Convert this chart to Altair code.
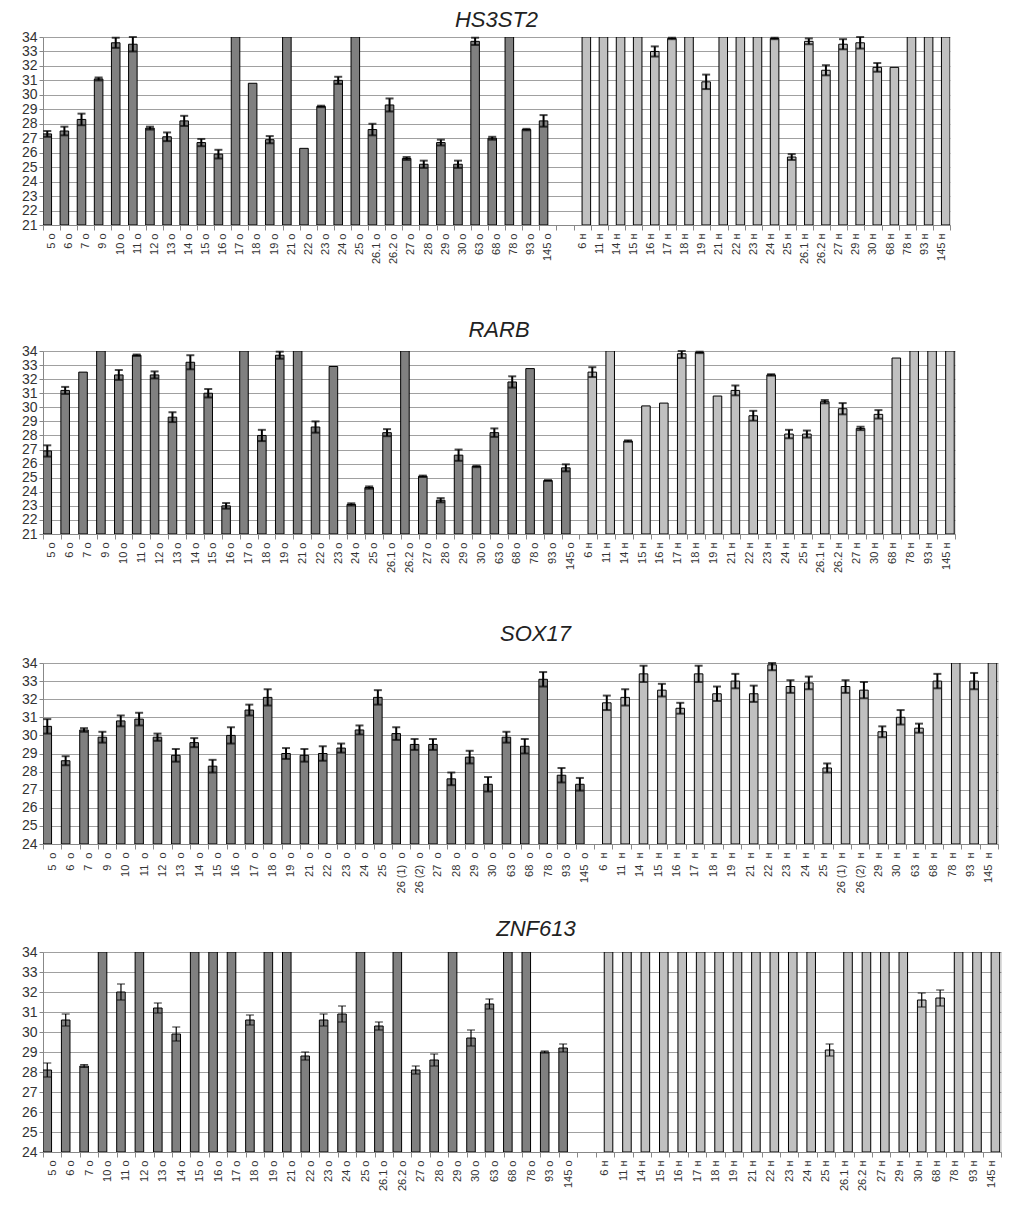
import altair as alt
import pandas as pd

FONT = "Liberation Sans"
O = "о"   # tumour samples (dark bars)
N = "н"   # normal samples (light bars)
# None = no value inside the axis range (bar drawn up to the top of the axis)

# ---------------- HS3ST2 ----------------
hs_o_ids = ["5", "6", "7", "9", "10", "11", "12", "13", "14", "15", "16", "17", "18", "19", "21", "22",
            "23", "24", "25", "26.1", "26.2", "27", "28", "29", "30", "63", "68", "78", "93", "145"]
hs_o_val = [27.3, 27.5, 28.3, 31.1, 33.6, 33.5, 27.7, 27.1, 28.2, 26.7, 25.9, None, 30.8, 26.9, None, 26.3,
            29.2, 31.0, None, 27.6, 29.3, 25.6, 25.2, 26.7, 25.2, 33.7, 27.0, None, 27.6, 28.2]
hs_o_err = [0.2, 0.3, 0.4, 0.1, 0.35, 0.5, 0.1, 0.3, 0.35, 0.25, 0.3, None, None, 0.25, None, None,
            0.05, 0.25, None, 0.4, 0.45, 0.1, 0.25, 0.2, 0.25, 0.25, 0.1, None, 0.05, 0.4]
hs_n_ids = ["6", "11", "14", "15", "16", "17", "18", "19", "21", "22", "23", "24", "25", "26.1", "26.2",
            "27", "29", "30", "68", "78", "93", "145"]
hs_n_val = [None, None, None, None, 33.0, 33.9, None, 30.9, None, None, None, 33.9, 25.7, 33.7, 31.7,
            33.5, 33.6, 31.9, 31.9, None, None, None]
hs_n_err = [None, None, None, None, 0.35, 0.05, None, 0.5, None, None, None, 0.05, 0.2, 0.2, 0.35,
            0.35, 0.4, 0.3, None, None, None, None]

# ---------------- RARB ----------------
ra_o_ids = hs_o_ids
ra_o_val = [26.9, 31.2, 32.5, None, 32.3, 33.7, 32.3, 29.3, 33.2, 31.0, 23.0, None, 28.0, 33.7, None, 28.6,
            32.9, 23.1, 24.3, 28.2, None, 25.1, 23.4, 26.6, 25.8, 28.2, 31.8, 32.75, 24.8, 25.7]
ra_o_err = [0.4, 0.25, None, None, 0.35, 0.05, 0.25, 0.35, 0.5, 0.3, 0.2, None, 0.4, 0.25, None, 0.4,
            None, 0.08, 0.08, 0.25, None, 0.05, 0.15, 0.4, 0.05, 0.3, 0.4, None, 0.03, 0.25]
ra_n_ids = ["6", "11", "14", "15", "16", "17", "18", "19", "21", "22", "23", "24", "25", "26.1", "26.2",
            "27", "30", "68", "78", "93", "145"]
ra_n_val = [32.5, None, 27.6, 30.1, 30.3, 33.8, 33.9, 30.8, 31.2, 29.4, 32.3, 28.1, 28.1, 30.4, 29.9,
            28.5, 29.5, 33.5, None, None, None]
ra_n_err = [0.35, None, 0.05, None, None, 0.3, 0.05, None, 0.35, 0.35, 0.05, 0.3, 0.25, 0.12, 0.4,
            0.12, 0.3, None, None, None, None]

# ---------------- SOX17 ----------------
so_o_ids = ["5", "6", "7", "9", "10", "11", "12", "13", "14", "15", "16", "17", "18", "19", "21", "22",
            "23", "24", "25", "26 (1)", "26 (2)", "27", "28", "29", "30", "63", "68", "78", "93", "145"]
so_o_val = [30.5, 28.6, 30.3, 29.9, 30.8, 30.9, 29.9, 28.9, 29.6, 28.3, 30.0, 31.4, 32.1, 29.0, 28.9, 29.0,
            29.3, 30.3, 32.1, 30.1, 29.5, 29.5, 27.6, 28.8, 27.3, 29.9, 29.4, 33.1, 27.8, 27.3]
so_o_err = [0.4, 0.25, 0.1, 0.3, 0.3, 0.35, 0.2, 0.35, 0.25, 0.35, 0.45, 0.3, 0.45, 0.3, 0.35, 0.4,
            0.25, 0.25, 0.4, 0.35, 0.3, 0.3, 0.35, 0.35, 0.4, 0.3, 0.4, 0.4, 0.4, 0.35]
so_n_ids = ["6", "11", "14", "15", "16", "17", "18", "19", "21", "22", "23", "24", "25", "26 (1)", "26 (2)",
            "29", "30", "63", "68", "78", "93", "145"]
so_n_val = [31.8, 32.1, 33.4, 32.5, 31.5, 33.4, 32.3, 33.0, 32.3, 33.9, 32.7, 32.9, 28.2, 32.7, 32.5,
            30.2, 31.0, 30.4, 33.0, None, 33.0, None]
so_n_err = [0.4, 0.45, 0.45, 0.35, 0.3, 0.45, 0.4, 0.4, 0.45, 0.3, 0.35, 0.35, 0.25, 0.35, 0.45,
            0.3, 0.4, 0.25, 0.4, None, 0.45, None]

# ---------------- ZNF613 ----------------
zn_o_ids = ["5", "6", "7", "10", "11", "12", "13", "14", "15", "16", "17", "18", "19", "21", "22", "23",
            "24", "25", "26.1", "26.2", "27", "28", "29", "30", "63", "68", "78", "93", "145"]
zn_o_val = [28.1, 30.6, 28.3, None, 32.0, None, 31.2, 29.9, None, None, None, 30.6, None, None, 28.8, 30.6,
            30.9, None, 30.3, None, 28.1, 28.6, None, 29.7, 31.4, None, None, 29.0, 29.2]
zn_o_err = [0.35, 0.3, 0.07, None, 0.4, None, 0.25, 0.35, None, None, None, 0.25, None, None, 0.2, 0.3,
            0.4, None, 0.2, None, 0.2, 0.3, None, 0.4, 0.25, None, None, 0.05, 0.2]
zn_n_ids = hs_n_ids
zn_n_val = [None, None, None, None, None, None, None, None, None, None, None, None, 29.1, None, None,
            None, None, 31.6, 31.7, None, None, None]
zn_n_err = [None, None, None, None, None, None, None, None, None, None, None, None, 0.3, None, None,
            None, None, 0.35, 0.4, None, None, None]

yticks_21 = [21, 22, 23, 24, 25, 26, 27, 28, 29, 30, 31, 32, 33, 34]
yticks_24 = [24, 25, 26, 27, 28, 29, 30, 31, 32, 33, 34]
YMAX = 34


def build(o_ids, o_val, o_err, n_ids, n_val, n_err, sep, gap):
    rows = []
    for ids, vals, errs, g in ((o_ids, o_val, o_err, O), (n_ids, n_val, n_err, N)):
        for i, v, e in zip(ids, vals, errs):
            top = YMAX + 1 if v is None else v
            lo = None if e is None else v - e
            hi = None if e is None else v + e
            rows.append(dict(cat=f"{i}{sep}{g}", grp=g, top=top, lo=lo, hi=hi))
    domain = [f"{i}{sep}{O}" for i in o_ids] + ([" "] if gap else []) + [f"{i}{sep}{N}" for i in n_ids]
    return pd.DataFrame(rows), domain


def panel(title, df, domain, ymin, yticks, w, h, thin, title_dx, title_off):
    xscale = alt.Scale(domain=domain, paddingInner=0, paddingOuter=0)
    xaxis = alt.Axis(title=None, labelAngle=270, labelAlign="right", labelBaseline="middle",
                     labelFont=FONT, labelFontSize=11, labelColor="#333333", labelPadding=3,
                     labelOverlap=False, tickBand="extent", tickSize=5, tickColor="#888888",
                     domainColor="#888888", grid=False)
    yaxis = alt.Axis(title=None, values=yticks, labelFont=FONT, labelFontSize=14, labelColor="#333333",
                     labelPadding=2, grid=True, gridColor="#a0a0a0", tickSize=4, tickColor="#888888",
                     domainColor="#888888")
    yscale = alt.Scale(domain=[ymin, YMAX], nice=False, zero=False, clamp=True)
    X = alt.X("cat:N", scale=xscale, axis=xaxis, sort=domain)
    XO = alt.XOffset("grp:N", scale=alt.Scale(domain=[O, N], paddingInner=0, paddingOuter=0))
    base = alt.Chart(df)
    bars = base.mark_bar(stroke="black", strokeWidth=1, clip=True).encode(
        x=X, xOffset=XO,
        y=alt.Y("top:Q", scale=yscale, axis=yaxis),
        y2=alt.datum(ymin),
        color=alt.Color("grp:N", scale=alt.Scale(domain=[O, N], range=["#808080", "#c0c0c0"]), legend=None),
    )
    sw = 1.2 if thin else 2
    eb = base.transform_filter("isValid(datum.lo)")
    rule = eb.mark_rule(color="black", strokeWidth=sw).encode(
        x=X, xOffset=XO, y=alt.Y("lo:Q", scale=yscale, axis=yaxis), y2="hi:Q")
    cap_lo = eb.mark_tick(color="black", thickness=sw, size=8).encode(
        x=X, xOffset=XO, y=alt.Y("lo:Q", scale=yscale, axis=yaxis))
    cap_hi = eb.mark_tick(color="black", thickness=sw, size=8).encode(
        x=X, xOffset=XO, y=alt.Y("hi:Q", scale=yscale, axis=yaxis))
    return alt.layer(bars, rule, cap_lo, cap_hi).properties(
        width=w, height=h,
        title=alt.TitleParams(title, font=FONT, fontSize=22, fontStyle="italic", fontWeight="normal",
                              color="#222222", offset=title_off, dx=title_dx, anchor="middle"))


hs_df, hs_dom = build(hs_o_ids, hs_o_val, hs_o_err, hs_n_ids, hs_n_val, hs_n_err, " ", True)
ra_df, ra_dom = build(ra_o_ids, ra_o_val, ra_o_err, ra_n_ids, ra_n_val, ra_n_err, " ", False)
so_df, so_dom = build(so_o_ids, so_o_val, so_o_err, so_n_ids, so_n_val, so_n_err, "\u00a0 ", False)
zn_df, zn_dom = build(zn_o_ids, zn_o_val, zn_o_err, zn_n_ids, zn_n_val, zn_n_err, " ", True)

p1 = panel("HS3ST2", hs_df, hs_dom, 21, yticks_21, 907, 188, False, 0, -2)
p2 = panel("RARB", ra_df, ra_dom, 21, yticks_21, 912, 183, False, 0, 2)
p3 = panel("SOX17", so_df, so_dom, 24, yticks_24, 955, 181, False, 15, 10)
p4 = panel("ZNF613", zn_df, zn_dom, 24, yticks_24, 958, 200, True, 14, 4)

top = alt.vconcat(p1, p2, spacing=53)
bottom = alt.vconcat(p3, p4, spacing=23)
chart = alt.vconcat(top, bottom, spacing=48).properties(
    padding={"left": 12, "top": 0, "right": 4, "bottom": 2}
).configure_view(stroke=None).configure(background="white")

chart.save("out.html", embed_options={"renderer": "svg", "actions": False})
